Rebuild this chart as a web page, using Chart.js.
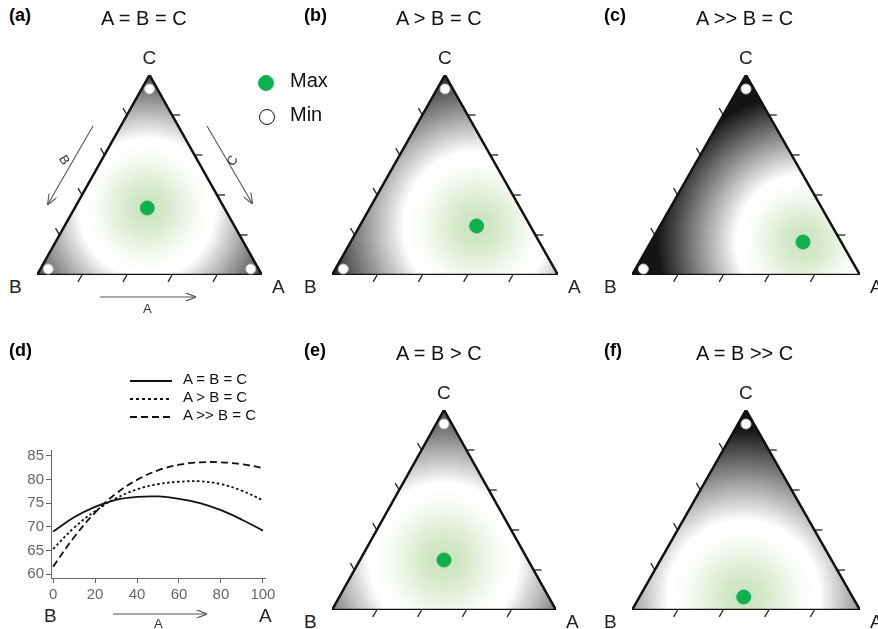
<!DOCTYPE html>
<html><head><meta charset="utf-8">
<script src="https://cdn.jsdelivr.net/npm/chart.js@4"></script>
<style>
body{margin:0;background:#fff;font-family:"Liberation Sans",Arial,sans-serif;}
#page{position:relative;width:878px;height:629px;overflow:hidden;}
canvas{position:absolute;}
.t{position:absolute;font-size:20px;color:#111;white-space:nowrap;}
.p{position:absolute;font-size:18px;font-weight:bold;}
.v{position:absolute;font-size:19px;color:#222;}
svg{position:absolute;left:0;top:0;}
</style></head><body><div id="page"></div>
<script>
// panels: id, title, vertex pixel box, max location (x along B->A, y height), spread, min markers
const panelIds = ['a', 'b', 'c', 'e', 'f'];
const panelTitles = ['A = B = C', 'A > B = C', 'A >> B = C', 'A = B > C', 'A = B >> C'];
const triLeft = [37, 332, 632, 332, 632];
const triWidth = [225, 226, 228, 224, 228];
const triBase = [275, 275, 275, 610, 610];
const maxX = [0.49, 0.64, 0.75, 0.5, 0.49];
const maxY = [0.335, 0.245, 0.165, 0.25, 0.065];
const spread = [0.58, 0.62, 0.56, 0.64, 0.64];
const minPoints = [[[0.5, 0.93], [0.05, 0.03], [0.95, 0.03]], [[0.5, 0.93], [0.05, 0.03]], [[0.5, 0.93], [0.05, 0.03]], [[0.5, 0.93]], [[0.5, 0.93]]];

// panel (d)
const xVals = [0, 10, 20, 30, 40, 50, 60, 70, 80, 90, 100];
const xTicks = [0, 20, 40, 60, 80, 100];
const yTicks = [60, 65, 70, 75, 80, 85];
const equalSeries = [69, 72, 74.2, 75.7, 76.3, 76.4, 75.9, 75, 73.5, 71.5, 69.2];
const aGreaterSeries = [65.3, 69.8, 73.3, 76, 77.9, 79, 79.5, 79.6, 79, 77.6, 75.6];
const aMuchGreaterSeries = [61.6, 67.8, 73, 77, 79.9, 81.9, 83.1, 83.6, 83.6, 83.2, 82.4];
const seriesNames = ['A = B = C', 'A > B = C', 'A >> B = C'];

const page = document.getElementById('page');
function add(cls, text, x, y, extra) {
  const d = document.createElement('div');
  d.className = cls; d.textContent = text;
  d.style.left = x + 'px'; d.style.top = y + 'px';
  if (extra) Object.assign(d.style, extra);
  page.appendChild(d); return d;
}

function shade(t) {
  if (t < 0.52) {
    const f = t / 0.52, s = f * f * (3 - 2 * f);
    return [205 + 50 * s, 228 + 27 * s, 190 + 65 * s];
  }
  const g = Math.max(20, 255 - (t - 0.52) / 0.62 * 235);
  return [g, g, g];
}

const fieldPlugin = {
  id: 'field',
  beforeDatasetsDraw(chart) {
    const o = chart.options.plugins.field;
    const xs = chart.scales.x, ys = chart.scales.y;
    const x0 = Math.floor(xs.getPixelForValue(0)), x1 = Math.ceil(xs.getPixelForValue(1));
    const y0 = Math.floor(ys.getPixelForValue(1)), y1 = Math.ceil(ys.getPixelForValue(0));
    const w = x1 - x0, h = y1 - y0;
    const off = document.createElement('canvas'); off.width = w; off.height = h;
    const octx = off.getContext('2d');
    const img = octx.createImageData(w, h);
    for (let j = 0; j < h; j++) {
      const ty = ys.getValueForPixel(y0 + j + 0.5);
      for (let i = 0; i < w; i++) {
        const tx = xs.getValueForPixel(x0 + i + 0.5);
        if (ty < 0 || ty > 2 * tx || ty > 2 * (1 - tx)) continue;
        const dx = tx - o.mx, dy = (ty - o.my) * 0.866;
        const c = shade(Math.sqrt(dx * dx + dy * dy) / o.R);
        const k = (j * w + i) * 4;
        img.data[k] = c[0]; img.data[k + 1] = c[1]; img.data[k + 2] = c[2]; img.data[k + 3] = 255;
      }
    }
    octx.putImageData(img, 0, 0);
    chart.ctx.drawImage(off, x0, y0);
    // edge ticks
    const ctx = chart.ctx;
    const P = (x, y) => [xs.getPixelForValue(x), ys.getPixelForValue(y)];
    ctx.save(); ctx.strokeStyle = '#222'; ctx.lineWidth = 1.3;
    [0.2, 0.4, 0.6, 0.8].forEach(f => {
      const segs = [[P(f, 0), [-0.5, 0.866]], [P(1 - f / 2, f), [1, 0]], [P(0.5 - f / 2, 1 - f), [-0.5, -0.866]]];
      segs.forEach(([p, d]) => {
        ctx.beginPath(); ctx.moveTo(p[0], p[1]); ctx.lineTo(p[0] + d[0] * 8, p[1] + d[1] * 8); ctx.stroke();
      });
    });
    ctx.restore();
  }
};

panelIds.forEach((id, n) => {
  const pad = 14, H = 200;
  const cv = document.createElement('canvas');
  cv.style.left = (triLeft[n] - pad) + 'px';
  cv.style.top = (triBase[n] - H - pad) + 'px';
  cv.style.width = (triWidth[n] + 2 * pad) + 'px';
  cv.style.height = (H + 2 * pad) + 'px';
  page.appendChild(cv);
  new Chart(cv, {
    type: 'scatter',
    data: {
      datasets: [
        { data: [{x: maxX[n], y: maxY[n]}], pointRadius: 7, pointBackgroundColor: '#0fb04f', pointBorderColor: '#0fb04f', order: 0 },
        { data: minPoints[n].map(p => ({x: p[0], y: p[1]})), pointRadius: 5, pointBackgroundColor: '#fff', pointBorderColor: '#bbb', pointBorderWidth: 1, order: 1 },
        { type: 'line', data: [{x: 0, y: 0}, {x: 1, y: 0}, {x: 0.5, y: 1}, {x: 0, y: 0}], borderColor: '#111', borderWidth: 2.5, pointRadius: 0, fill: false, order: 2 }
      ]
    },
    options: {
      responsive: false, animation: false, events: [],
      layout: { padding: pad },
      scales: { x: { type: 'linear', min: 0, max: 1, display: false }, y: { type: 'linear', min: 0, max: 1, display: false } },
      plugins: { legend: { display: false }, tooltip: { enabled: false }, field: { mx: maxX[n], my: maxY[n], R: spread[n] } }
    },
    plugins: [fieldPlugin]
  });
  const top = triBase[n] - 275;
  add('p', '(' + id + ')', triLeft[n] - 28, top + 5);
  add('t', panelTitles[n], triLeft[n] + 64, top + 7);
  add('v', 'C', triLeft[n] + triWidth[n] / 2 - 7, top + 47);
  add('v', 'B', triLeft[n] - 28, top + 276);
  add('v', 'A', triLeft[n] + triWidth[n] + 10, top + 276);
});

// legend for max/min
const dot = (x, y, c, b) => { add('t', '', x, y, {width: '14px', height: '14px', borderRadius: '50%', background: c, border: b}); };
dot(258, 75, '#0fb04f', '1px solid #0fb04f');
add('t', 'Max', 290, 69);
dot(259, 109, '#fff', '1.5px solid #111');
add('t', 'Min', 290, 103);

// arrows in (a) and (d), legend lines for (d)
page.insertAdjacentHTML('beforeend', `<svg width="878" height="629">
<defs><marker id="ah" markerWidth="10" markerHeight="8" refX="9" refY="4" orient="auto"><path d="M0,0 L10,4 L0,8" fill="none" stroke="#555" stroke-width="1"/></marker></defs>
<g stroke="#555" stroke-width="1.1" fill="none">
<line x1="93" y1="126" x2="48" y2="204" marker-end="url(#ah)"/>
<line x1="207" y1="126" x2="252" y2="203" marker-end="url(#ah)"/>
<line x1="100" y1="297" x2="195" y2="297" marker-end="url(#ah)"/>
<line x1="113" y1="614" x2="206" y2="614" marker-end="url(#ah)"/>
<line x1="130" y1="381" x2="172" y2="381" stroke="#111" stroke-width="2"/>
<line x1="130" y1="399" x2="172" y2="399" stroke="#111" stroke-width="2" stroke-dasharray="3,3"/>
<line x1="130" y1="417" x2="172" y2="417" stroke="#111" stroke-width="2" stroke-dasharray="7,4"/>
</g>
<g font-family="Liberation Sans, Arial" font-size="13" fill="#333">
<text x="58" y="165" transform="rotate(60 64 162)">B</text>
<text x="228" y="163" transform="rotate(-60 234 160)">C</text>
<text x="143" y="313">A</text>
<text x="154" y="628">A</text>
</g></svg>`);
add('t', seriesNames[0], 183, 370, {fontSize: '15px'});
add('t', seriesNames[1], 183, 388, {fontSize: '15px'});
add('t', seriesNames[2], 183, 406, {fontSize: '15px'});
add('v', 'B', 44, 605);
add('v', 'A', 259, 605);

// panel (d) chart
add('p', '(d)', 9, 340);
const cd = document.createElement('canvas');
cd.style.left = '18px'; cd.style.top = '439px';
cd.style.width = '261px'; cd.style.height = '166px';
page.appendChild(cd);
const dashes = [[], [2.5, 2.5], [7, 4]];
const tickFont = { size: 15, family: 'Liberation Sans' };
new Chart(cd, {
  type: 'line',
  data: {
    datasets: [equalSeries, aGreaterSeries, aMuchGreaterSeries].map((s, i) => ({
      label: seriesNames[i], data: xVals.map((x, k) => ({x, y: s[k]})),
      borderColor: '#111', borderWidth: 1.8, borderDash: dashes[i], pointRadius: 0, tension: 0.4
    }))
  },
  options: {
    responsive: false, animation: false, events: [],
    layout: { padding: { top: 6, right: 14 } },
    scales: {
      x: { type: 'linear', min: -1, max: 101, grid: { drawOnChartArea: false, tickLength: 5, color: '#666' }, border: { color: '#666' },
        afterBuildTicks: s => { s.ticks = xTicks.map(v => ({value: v})); },
        ticks: { color: '#666', font: tickFont, padding: 3 },
        afterFit: s => { s.height = 27; } },
      y: { min: 59.2, max: 86.2, grid: { drawOnChartArea: false, tickLength: 5, color: '#666' }, border: { color: '#666' },
        afterBuildTicks: s => { s.ticks = yTicks.map(v => ({value: v})); },
        ticks: { color: '#666', font: tickFont, padding: 2 },
        afterFit: s => { s.width = 33; } }
    },
    plugins: { legend: { display: false }, tooltip: { enabled: false } }
  }
});
</script></body></html>
